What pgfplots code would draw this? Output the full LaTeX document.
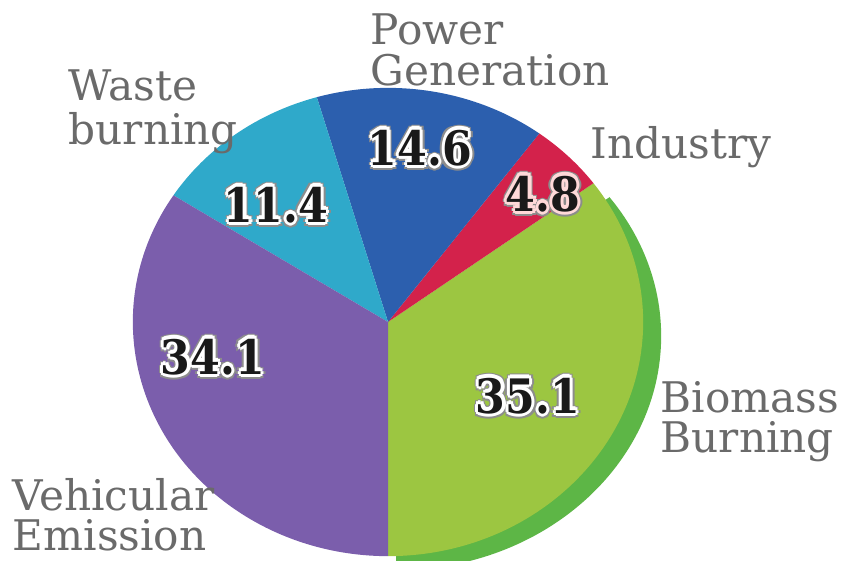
\documentclass[border=0pt]{standalone}
\usepackage{fontspec}
\setmainfont{DejaVu Serif}
\usepackage{pgfplots}
\usepackage{pgfplotstable}
\pgfplotsset{compat=1.18}

\definecolor{slc0}{HTML}{9CC641}% Biomass Burning
\definecolor{slc1}{HTML}{D3224B}% Industry
\definecolor{slc2}{HTML}{2C5FAE}% Power Generation
\definecolor{slc3}{HTML}{2FA9CA}% Waste burning
\definecolor{slc4}{HTML}{7B5EAC}% Vehicular Emission
\definecolor{rim}{HTML}{5DB646}
\definecolor{labgray}{HTML}{6A6A6A}

% shares in percent, counter-clockwise from the bottom
\pgfplotstableread{
label      value
Biomass    35.1
Industry   4.8
Power      14.6
Waste      11.4
Vehicular  34.1
}\piedata

% start and end angle of every slice
\def\cum{-90}
\pgfplotsforeachungrouped \i in {0,...,4}{%
  \pgfplotstablegetelem{\i}{value}\of\piedata
  \pgfmathsetmacro\nxt{\cum+3.6*\pgfplotsretval}%
  \expandafter\xdef\csname sliceS\i\endcsname{\cum}%
  \expandafter\xdef\csname sliceE\i\endcsname{\nxt}%
  \xdef\cum{\nxt}%
}

\newcommand\lab{\fontsize{12}{12}\selectfont\color{labgray}}
\newcommand\numf{\fontsize{13.5}{13.5}\selectfont\bfseries}
% number with a light halo
\newcommand\numlab[4][white]{%
  \pgfplotsinvokeforeach{0,45,...,315}{%
    \node[inner sep=0pt, font=\numf, text=black!45, xscale=0.9, xshift={1.5pt*cos(##1)}, yshift={1.5pt*sin(##1)}] at (axis cs:#2,#3) {#4};}
  \pgfplotsinvokeforeach{0,45,...,315}{%
    \node[inner sep=0pt, font=\numf, text=#1, xscale=0.9, xshift={1.0pt*cos(##1)}, yshift={1.0pt*sin(##1)}] at (axis cs:#2,#3) {#4};}
  \node[inner sep=0pt, font=\numf, text=black!90, xscale=0.9] at (axis cs:#2,#3) {#4};
}

\begin{document}
\begin{tikzpicture}
\begin{axis}[
    x=0.01cm, y=0.01cm,
    xmin=0, xmax=855,
    ymin=0, ymax=560,
    hide axis,
]

% darker rim under the green slice
\fill[rim] (axis cs:396,224) -- ++(\csname sliceS0\endcsname:2.65cm and 2.34cm)
    arc[start angle=\csname sliceS0\endcsname, end angle=\csname sliceE0\endcsname, x radius=2.65cm, y radius=2.34cm] -- cycle;

\pgfplotsinvokeforeach{0,...,4}{%
  \fill[slc#1] (axis cs:388,238) -- ++(\csname sliceS#1\endcsname:2.55cm and 2.34cm)
    arc[start angle=\csname sliceS#1\endcsname, end angle=\csname sliceE#1\endcsname, x radius=2.55cm, y radius=2.34cm] -- cycle;
}

\node[anchor=base west, inner sep=0pt, font=\lab] at (axis cs:370,515) {Power};
\node[anchor=base west, inner sep=0pt, font=\lab] at (axis cs:370,475) {Generation};
\node[anchor=base west, inner sep=0pt, font=\lab] at (axis cs:68,460) {Waste};
\node[anchor=base west, inner sep=0pt, font=\lab] at (axis cs:68,416) {burning};
\node[anchor=base west, inner sep=0pt, font=\lab] at (axis cs:590,402) {Industry};
\node[anchor=base west, inner sep=0pt, font=\lab] at (axis cs:660,148) {Biomass};
\node[anchor=base west, inner sep=0pt, font=\lab] at (axis cs:660,108) {Burning};
\node[anchor=base west, inner sep=0pt, font=\lab] at (axis cs:12,50) {Vehicular};
\node[anchor=base west, inner sep=0pt, font=\lab] at (axis cs:12,10) {Emission};

\numlab{420}{412}{14.6}
\numlab[red!15]{543}{366}{4.8}
\numlab{276}{355}{11.4}
\numlab{213}{203}{34.1}
\numlab{528}{164}{35.1}

\end{axis}
\pgfresetboundingbox
\useasboundingbox (current axis.south west) rectangle (current axis.north east);
\end{tikzpicture}
\end{document}
